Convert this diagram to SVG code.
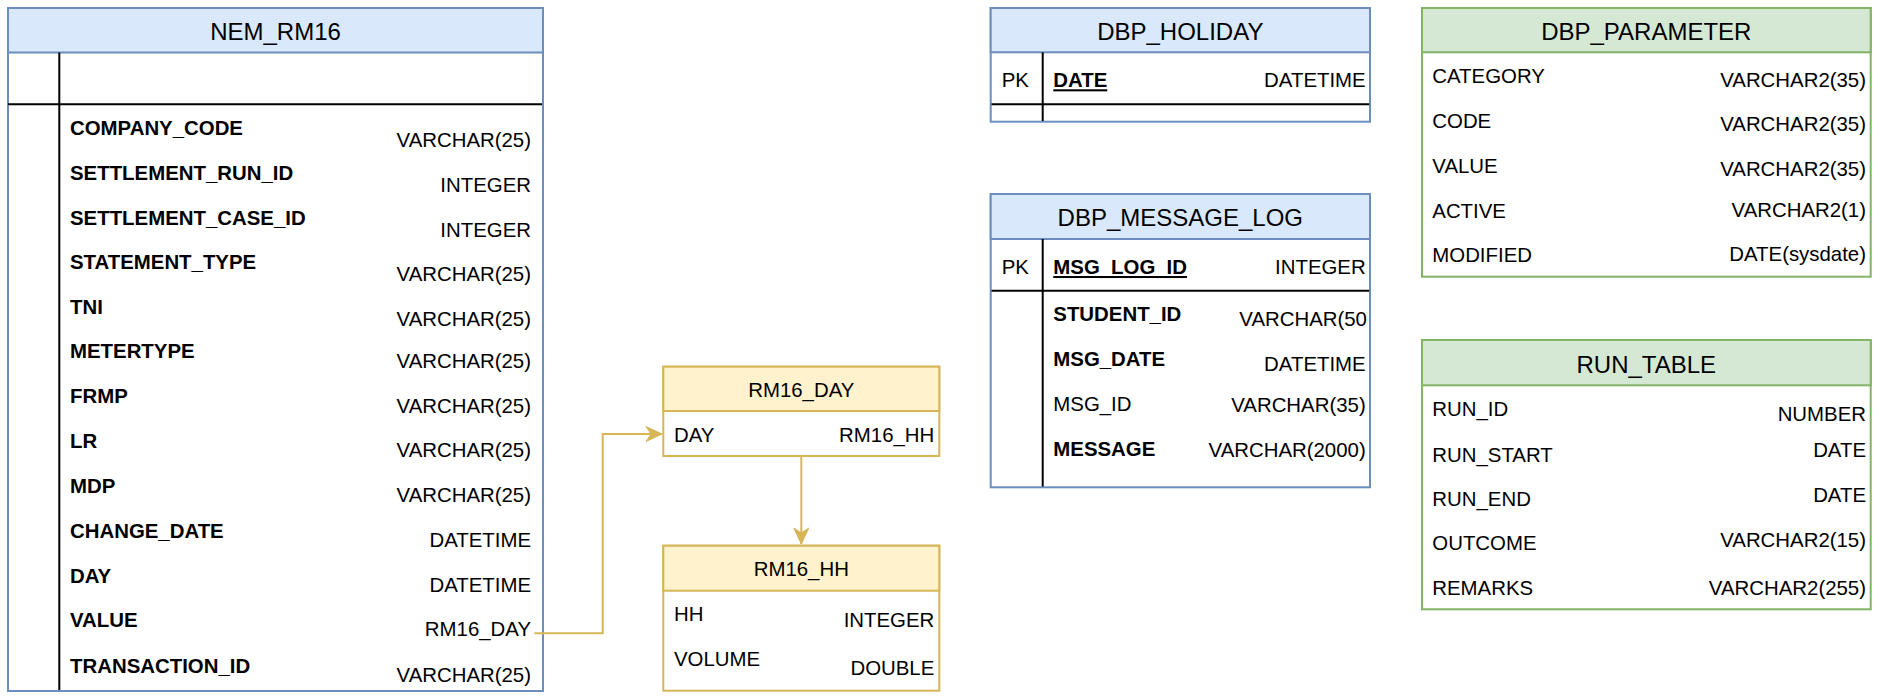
<svg xmlns="http://www.w3.org/2000/svg" width="1881" height="699" viewBox="0 0 1881 699">
<style>
text{font-family:"Liberation Sans",Arial,Helvetica,sans-serif;fill:#000;font-size:20.4px}
.t{font-size:24px;text-anchor:middle}
.ty{font-size:20.4px;text-anchor:middle}
.b{font-weight:bold}
.r{text-anchor:end}
.u{text-decoration:underline}
.blue{fill:#dae8fc;stroke:#6c8ebf;stroke-width:2}
.green{fill:#d5e8d4;stroke:#82b366;stroke-width:2}
.yel{fill:#fff2cc;stroke:#d6b656;stroke-width:2}
.wb{fill:#fff;stroke:#6c8ebf;stroke-width:2}
.wg{fill:#fff;stroke:#82b366;stroke-width:2}
.wy{fill:#fff;stroke:#d6b656;stroke-width:2}
.k{stroke:#000;stroke-width:2;fill:none}
.c{stroke:#d6b656;stroke-width:2;fill:none}
</style>
<defs>
<marker id="arr" markerUnits="userSpaceOnUse" viewBox="-17 -9 18 18" refX="0" refY="0" markerWidth="18" markerHeight="18" orient="auto">
<path d="M0 0 L-16 -7.5 L-11 0 L-16 7.5 Z" fill="#d6b656" stroke="#d6b656" stroke-width="1"/>
</marker>
</defs>
<rect width="1881" height="699" fill="#fff"/>

<g id="nem_rm16">
<rect class="wb" x="8" y="8" width="535" height="683"/>
<rect class="blue" x="8" y="8" width="535" height="44.5"/>
<text class="t" x="275.5" y="40">NEM_RM16</text>
<line class="k" x1="59.3" y1="52.5" x2="59.3" y2="690"/>
<line class="k" x1="8" y1="104.3" x2="542" y2="104.3"/>
<text class="b" x="70" y="135">COMPANY_CODE</text>
<text class="r" x="531" y="146.7">VARCHAR(25)</text>
<text class="b" x="70" y="180">SETTLEMENT_RUN_ID</text>
<text class="r" x="531" y="192.3">INTEGER</text>
<text class="b" x="70" y="224.5">SETTLEMENT_CASE_ID</text>
<text class="r" x="531" y="236.7">INTEGER</text>
<text class="b" x="70" y="269">STATEMENT_TYPE</text>
<text class="r" x="531" y="281">VARCHAR(25)</text>
<text class="b" x="70" y="313.7">TNI</text>
<text class="r" x="531" y="325.7">VARCHAR(25)</text>
<text class="b" x="70" y="358.3">METERTYPE</text>
<text class="r" x="531" y="368.3">VARCHAR(25)</text>
<text class="b" x="70" y="403">FRMP</text>
<text class="r" x="531" y="412.5">VARCHAR(25)</text>
<text class="b" x="70" y="448">LR</text>
<text class="r" x="531" y="457">VARCHAR(25)</text>
<text class="b" x="70" y="493">MDP</text>
<text class="r" x="531" y="501.7">VARCHAR(25)</text>
<text class="b" x="70" y="537.7">CHANGE_DATE</text>
<text class="r" x="531" y="546.7">DATETIME</text>
<text class="b" x="70" y="582.7">DAY</text>
<text class="r" x="531" y="591.7">DATETIME</text>
<text class="b" x="70" y="627.3">VALUE</text>
<text class="r" x="531" y="636">RM16_DAY</text>
<text class="b" x="70" y="672.7">TRANSACTION_ID</text>
<text class="r" x="531" y="681.7">VARCHAR(25)</text>
</g>

<g id="rm16_day">
<rect class="wy" x="663.3" y="366.7" width="276" height="89.3"/>
<rect class="yel" x="663.3" y="366.7" width="276" height="44.3"/>
<text class="ty" x="801.3" y="396.7">RM16_DAY</text>
<text x="674" y="441.7">DAY</text>
<text class="r" x="934.3" y="441.7">RM16_HH</text>
</g>

<g id="rm16_hh">
<rect class="wy" x="663.3" y="545.7" width="276" height="145"/>
<rect class="yel" x="663.3" y="545.7" width="276" height="45"/>
<text class="ty" x="801.3" y="576">RM16_HH</text>
<text x="674" y="621">HH</text>
<text class="r" x="934.3" y="627.3">INTEGER</text>
<text x="674" y="666">VOLUME</text>
<text class="r" x="934.3" y="675">DOUBLE</text>
</g>

<g id="dbp_holiday">
<rect class="wb" x="990.7" y="8" width="379.3" height="113.7"/>
<rect class="blue" x="990.7" y="8" width="379.3" height="44.3"/>
<text class="t" x="1180.3" y="40">DBP_HOLIDAY</text>
<line class="k" x1="1042.7" y1="52.3" x2="1042.7" y2="121"/>
<line class="k" x1="991.5" y1="104.3" x2="1369.2" y2="104.3"/>
<text x="1001.7" y="87.3">PK</text>
<text class="b u" x="1053.3" y="87.3">DATE</text>
<text class="r" x="1365.7" y="87.3">DATETIME</text>
</g>

<g id="dbp_message_log">
<rect class="wb" x="990.7" y="194" width="379.3" height="293.3"/>
<rect class="blue" x="990.7" y="194" width="379.3" height="45"/>
<text class="t" x="1180.3" y="226">DBP_MESSAGE_LOG</text>
<line class="k" x1="1042.7" y1="239" x2="1042.7" y2="486.5"/>
<line class="k" x1="991.5" y1="290.7" x2="1369.2" y2="290.7"/>
<text x="1001.7" y="274">PK</text>
<text class="b u" x="1053.3" y="274">MSG_LOG_ID</text>
<text class="r" x="1365.7" y="274">INTEGER</text>
<text class="b" x="1053.3" y="321">STUDENT_ID</text>
<text x="1239.3" y="326">VARCHAR(50</text>
<text class="b" x="1053.3" y="365.7">MSG_DATE</text>
<text class="r" x="1365.7" y="370.7">DATETIME</text>
<text x="1053.3" y="410.7">MSG_ID</text>
<text class="r" x="1365.7" y="411.7">VARCHAR(35)</text>
<text class="b" x="1053.3" y="455.7">MESSAGE</text>
<text class="r" x="1365.7" y="456.7">VARCHAR(2000)</text>
</g>

<g id="dbp_parameter">
<rect class="wg" x="1422" y="8" width="448.7" height="268.7"/>
<rect class="green" x="1422" y="8" width="448.7" height="44.3"/>
<text class="t" x="1646.3" y="40">DBP_PARAMETER</text>
<text x="1432.3" y="82.7">CATEGORY</text>
<text class="r" x="1866" y="87.3">VARCHAR2(35)</text>
<text x="1432.3" y="127.7">CODE</text>
<text class="r" x="1866" y="131">VARCHAR2(35)</text>
<text x="1432.3" y="172.7">VALUE</text>
<text class="r" x="1866" y="176">VARCHAR2(35)</text>
<text x="1432.3" y="217.7">ACTIVE</text>
<text class="r" x="1866" y="216.7">VARCHAR2(1)</text>
<text x="1432.3" y="261.7">MODIFIED</text>
<text class="r" x="1866" y="260.7">DATE(sysdate)</text>
</g>

<g id="run_table">
<rect class="wg" x="1422" y="340" width="448.7" height="269.3"/>
<rect class="green" x="1422" y="340" width="448.7" height="45.3"/>
<text class="t" x="1646.3" y="373.3">RUN_TABLE</text>
<text x="1432.3" y="416">RUN_ID</text>
<text class="r" x="1866" y="420.7">NUMBER</text>
<text x="1432.3" y="461.7">RUN_START</text>
<text class="r" x="1866" y="456.7">DATE</text>
<text x="1432.3" y="506">RUN_END</text>
<text class="r" x="1866" y="501.7">DATE</text>
<text x="1432.3" y="550">OUTCOME</text>
<text class="r" x="1866" y="547.3">VARCHAR2(15)</text>
<text x="1432.3" y="595">REMARKS</text>
<text class="r" x="1866" y="595">VARCHAR2(255)</text>
</g>

<g id="connectors">
<path class="c" d="M534.3 633.3 H602.7 V434 H662" marker-end="url(#arr)"/>
<path class="c" d="M801.3 456 V544" marker-end="url(#arr)"/>
</g>
</svg>
